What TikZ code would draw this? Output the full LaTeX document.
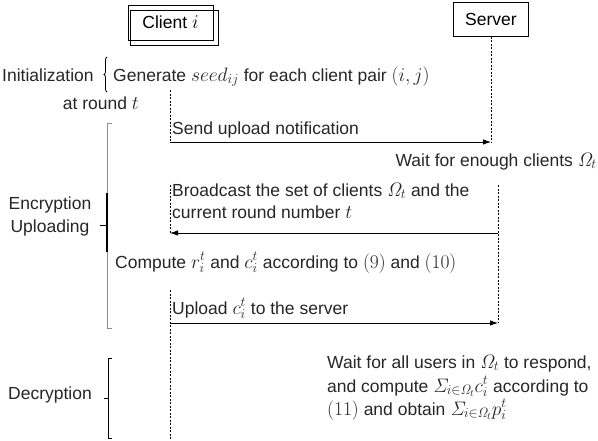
\RequirePackage{fix-cm}
\documentclass[tikz,border=0pt]{standalone}
\usepackage[no-math]{fontspec}
\setmainfont{Liberation Sans}
\usetikzlibrary{arrows.meta,decorations.pathreplacing}
\newcommand\mth[1]{{\fontsize{19.5}{21}\selectfont$#1$}}
\begin{document}
\begin{tikzpicture}[x=1pt,y=-1pt,
  txt/.style={font=\fontsize{17.5}{21}\selectfont, inner sep=0pt, text=black!85},
  life/.style={dash pattern=on 2pt off 1.5pt, line width=0.6pt},
  msg/.style={-{Latex[length=8pt,width=5.5pt]}, line width=0.8pt},
  lifebox/.style={draw, line width=1pt, inner sep=0pt, font=\fontsize{17.5}{21}\selectfont},
  brk/.style={line width=0.8pt}]
\useasboundingbox (0,0) rectangle (598,440);

% participants
\node[lifebox, minimum width=85pt, minimum height=35pt] (client) at (170.5,22.5) {Client \mth{i}};
\draw[line width=1pt] ([shift={(3,6)}]client.north west) rectangle ([shift={(5,5)}]client.south east);
\node[lifebox, minimum width=75pt, minimum height=34pt] (server) at (491,19) {Server};

% coordinates on lifelines
\coordinate (c1a) at (170,90);
\coordinate (c1b) at (170,142);
\coordinate (s1) at (491,142);
\coordinate (c2a) at (170,185);
\coordinate (c2b) at (170,233);
\coordinate (s2a) at (498,185);
\coordinate (s2m) at (498,233);
\coordinate (s2b) at (498,323);
\coordinate (c3a) at (170,290);
\coordinate (c3m) at (170,323);
\coordinate (c3b) at (170,440);

% lifelines
\draw[life] (server.south) -- (s1);
\draw[life] (c1a) -- (c1b);
\draw[life] (c2a) -- (c2b);
\draw[life] (s2a) -- (s2b);
\draw[life] (c3a) -- (c3b);

% messages
\draw[msg] (c1b) -- (s1);
\draw[msg] (s2m) -- (c2b);
\draw[msg] (c3m) -- (s2b);

% texts
\node[txt, anchor=base west] (init) at (2,81) {Initialization};
\node[txt, anchor=base west] (gen) at (113,81) {Generate \mth{seed_{ij}} for each client pair \mth{(i,j)}};
\node[txt, anchor=base east] (round) at (139,109) {at round \mth{t}};
\node[txt, anchor=base west] (send) at (172,134) {Send upload notification};
\node[txt, anchor=base east] (wait1) at (597,166) {Wait for enough clients \mth{\mathit{\Omega}_t}};
\node[txt, anchor=base west] (bc1) at (172,196) {Broadcast the set of clients \mth{\mathit{\Omega}_t} and the};
\node[txt, anchor=base west] (bc2) at (172,218) {current round number \mth{t}};
\node[txt, anchor=base west] (comp) at (115,268) {Compute \mth{r_i^t} and \mth{c_i^t} according to \mth{(9)} and \mth{(10)}};
\node[txt, anchor=base west] (upl) at (172,314) {Upload \mth{c_i^t} to the server};
\node[txt, anchor=base] (enc) at (50,209) {Encryption};
\node[txt, anchor=base] (uplg) at (50,232) {Uploading};
\node[txt, anchor=base west] (dec) at (8,399) {Decryption};
\node[txt, anchor=base west] (w1) at (327,368) {Wait for all users in \mth{\mathit{\Omega}_t} to respond,};
\node[txt, anchor=base west] (w2) at (327,392) {and compute \mth{\mathit{\Sigma}_{i\in\mathit{\Omega}_t}c_i^t} according to};
\node[txt, anchor=base west] (w3) at (327,415) {\mth{(11)} and obtain \mth{\mathit{\Sigma}_{i\in\mathit{\Omega}_t}p_i^t}};

% brackets
\draw[brk, decorate, decoration={brace, amplitude=3pt}] (107,92) -- (107,57);
\draw[brk, black!45] (112,123) -- (107,123) -- (107,328) -- (112,328);
\draw[line width=1.3pt] (107,193) -- (107,252);
\draw[brk] (100,225) -- (107,225);
\draw[brk] (112,358) -- (108,358) -- (108,438) -- (112,438);
\draw[brk] (104,398) -- (108,398);
\end{tikzpicture}
\end{document}
